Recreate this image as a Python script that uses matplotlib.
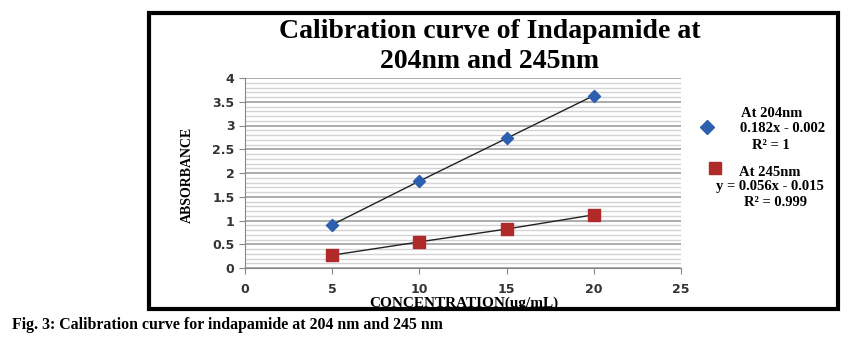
import matplotlib.pyplot as plt
import matplotlib.patches as patches
from matplotlib.ticker import MultipleLocator

# data
conc = [5, 10, 15, 20]
abs_204 = [0.91, 1.83, 2.73, 3.63]
abs_245 = [0.27, 0.55, 0.82, 1.12]
xticks = [0, 5, 10, 15, 20, 25]
yticks = [0, 0.5, 1, 1.5, 2, 2.5, 3, 3.5, 4]
ytick_labels = ['0', '0.5', '1', '1.5', '2', '2.5', '3', '3.5', '4']

serif = 'Liberation Serif'

fig = plt.figure(figsize=(8.52, 3.41), dpi=100)

# black frame around the chart
frame = patches.Rectangle((149 / 852, 1 - 309 / 341), (838 - 149) / 852, (309 - 13) / 341,
                          transform=fig.transFigure, fill=False, edgecolor='black', linewidth=3)
fig.patches.append(frame)

ax = fig.add_axes([245 / 852, 1 - 268 / 341, (681 - 245) / 852, (268 - 78) / 341])

ax.set_xlim(0, 25)
ax.set_ylim(0, 4)
ax.set_xticks(xticks)
ax.set_yticks(yticks)
ax.set_yticklabels(ytick_labels)
ax.yaxis.set_minor_locator(MultipleLocator(0.1))

ax.grid(which='minor', axis='y', color='#d4d4d4', linewidth=1.0)
ax.grid(which='major', axis='y', color='#a6a6a6', linewidth=1.3)
ax.set_axisbelow(True)

for s in ['top', 'right']:
    ax.spines[s].set_visible(False)
ax.spines['left'].set_color('#888888')
ax.spines['bottom'].set_color('#888888')
ax.tick_params(which='major', length=4, color='#888888', labelsize=9)
ax.tick_params(which='minor', length=0)
ax.tick_params(axis='x', pad=7)
for lbl in ax.get_xticklabels() + ax.get_yticklabels():
    lbl.set_fontweight('bold')
    lbl.set_color('#333333')

# trend lines + markers
ax.plot(conc, abs_204, color='#222222', linewidth=1.0, zorder=3)
ax.plot(conc, abs_245, color='#222222', linewidth=1.0, zorder=3)
ax.scatter(conc, abs_204, marker='D', s=38, color='#2c5fad', zorder=4)
ax.scatter(conc, abs_245, marker='s', s=85, color='#b02a2a', zorder=4)

# axis titles placed by hand so they sit like the original
fig.text(464 / 852, 1 - 303 / 341, 'CONCENTRATION(ug/mL)', ha='center', va='center',
         fontfamily=serif, fontweight='bold', fontsize=11)
fig.text(187 / 852, 1 - 175 / 341, 'ABSORBANCE', ha='center', va='center', rotation=90,
         fontfamily=serif, fontweight='bold', fontsize=10)

fig.text(490 / 852, 1 - 32 / 341, 'Calibration curve of Indapamide at', ha='center', va='center',
         fontfamily=serif, fontweight='bold', fontsize=20)
fig.text(490 / 852, 1 - 61 / 341, '204nm and 245nm', ha='center', va='center',
         fontfamily=serif, fontweight='bold', fontsize=20)

# legend drawn by hand, like the excel one
fig.lines.append(plt.Line2D([707 / 852], [1 - 127 / 341], marker='D', markersize=7, color='#2c5fad',
                            linestyle='none', transform=fig.transFigure))
fig.lines.append(plt.Line2D([715 / 852], [1 - 168 / 341], marker='s', markersize=9, color='#b02a2a',
                            linestyle='none', transform=fig.transFigure))
leg_txt = [
    (772, 114, 'At 204nm'),
    (783, 129, '0.182x - 0.002'),
    (771, 145, 'R² = 1'),
    (770, 172, 'At 245nm'),
    (770, 187, 'y = 0.056x - 0.015'),
    (776, 202, 'R² = 0.999'),
]
for x, y, t in leg_txt:
    fig.text(x / 852, 1 - y / 341, t, ha='center', va='center', fontfamily=serif,
             fontweight='bold', fontsize=10.5)

fig.text(12 / 852, 1 - 325 / 341, 'Fig. 3: Calibration curve for indapamide at 204 nm and 245 nm',
         ha='left', va='center', fontfamily=serif, fontweight='bold', fontsize=11.4)

fig.savefig('out.png', dpi=100)
